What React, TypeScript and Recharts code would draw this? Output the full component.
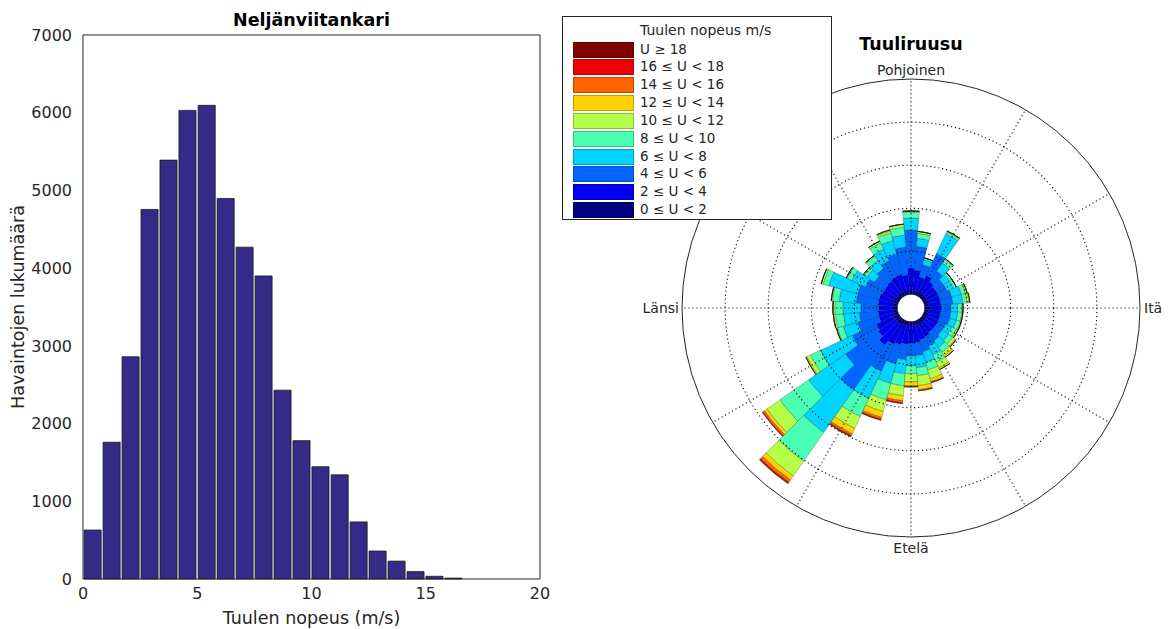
import {
  BarChart,
  Bar,
  XAxis,
  YAxis,
  RadialBarChart,
  RadialBar,
  PolarAngleAxis,
  PolarRadiusAxis,
  PolarGrid,
} from "recharts";

// histogram: 20 bins between 0 and ~16.6 m/s
const binCenters = [
  0.42, 1.25, 2.08, 2.91, 3.74, 4.57, 5.41, 6.24, 7.07, 7.9, 8.73, 9.56, 10.39,
  11.23, 12.06, 12.89, 13.72, 14.55, 15.38, 16.21,
];
const binCounts = [
  630, 1760, 2860, 4755, 5390, 6030, 6095, 4895, 4270, 3900, 2430, 1780, 1445,
  1340, 735, 360, 230, 95, 35, 12,
];
const speedTicks = [0, 5, 10, 15, 20];
const countTicks = [0, 1000, 2000, 3000, 4000, 5000, 6000, 7000];

// wind rose: share (%) per direction, one list per speed class
const directions = [
  0, 10, 20, 30, 40, 50, 60, 70, 80, 90, 100, 110, 120, 130, 140, 150, 160, 170,
  180, 190, 200, 210, 220, 230, 240, 250, 260, 270, 280, 290, 300, 310, 320, 330,
  340, 350,
];
const u0_2 = [
  0.21, 0.21, 0.21, 0.21, 0.21, 0.21, 0.21, 0.21, 0.21, 0.21, 0.21, 0.21, 0.21,
  0.21, 0.21, 0.21, 0.21, 0.21, 0.21, 0.21, 0.21, 0.21, 0.21, 0.26, 0.26, 0.26,
  0.21, 0.21, 0.21, 0.21, 0.21, 0.21, 0.21, 0.21, 0.21, 0.21,
];
const u2_4 = [
  0.7, 1.02, 0.93, 0.65, 0.84, 0.65, 0.56, 0.56, 0.56, 0.56, 0.56, 0.56, 0.56,
  0.56, 0.56, 0.56, 0.65, 0.7, 0.79, 0.79, 0.84, 0.93, 1.02, 1.21, 0.97, 0.88,
  0.7, 0.7, 0.65, 0.7, 0.7, 0.65, 0.65, 0.7, 0.74, 0.79,
];
const u4_6 = [
  1.3, 1.76, 1.11, 0.6, 1.11, 0.6, 0.46, 0.46, 0.56, 0.56, 0.46, 0.46, 0.46,
  0.37, 0.37, 0.46, 0.46, 0.56, 0.6, 0.6, 0.74, 0.93, 1.39, 2.55, 1.86, 1.25,
  1.02, 0.88, 0.84, 1.02, 1.02, 0.84, 0.6, 0.7, 0.84, 0.97,
];
const u6_8 = [
  0.56, 0.56, 0.37, 0.23, 1.02, 0.46, 0.32, 0.32, 0.46, 0.46, 0.32, 0.32, 0.32,
  0.32, 0.37, 0.37, 0.46, 0.51, 0.56, 0.46, 0.65, 0.93, 1.39, 2.41, 2.09, 1.62,
  0.7, 0.74, 0.84, 0.79, 1.39, 0.7, 0.42, 0.46, 0.6, 0.65,
];
const u8_10 = [
  0.37, 0.28, 0.23, 0.09, 0.09, 0.19, 0.14, 0.14, 0.19, 0.19, 0.19, 0.19, 0.19,
  0.23, 0.23, 0.28, 0.37, 0.37, 0.37, 0.37, 0.56, 0.79, 0.93, 1.62, 1.62, 0.51,
  0.28, 0.37, 0.37, 0.32, 0.28, 0.23, 0.14, 0.23, 0.32, 0.37,
];
const u10_12 = [
  0.14, 0.05, 0.09, 0, 0.05, 0.05, 0, 0, 0.09, 0.09, 0.05, 0.05, 0.05, 0.09,
  0.14, 0.19, 0.28, 0.42, 0.46, 0.37, 0.46, 0.56, 0.6, 0.84, 0.74, 0.19, 0.05,
  0.09, 0.09, 0.05, 0.09, 0.05, 0.05, 0.05, 0.09, 0.09,
];
const u12_14 = [
  0, 0, 0, 0, 0, 0, 0, 0, 0, 0.05, 0, 0, 0, 0, 0.05, 0.09, 0.09, 0.14, 0.19,
  0.19, 0.23, 0.28, 0.28, 0.23, 0.14, 0.05, 0, 0, 0, 0, 0, 0, 0, 0, 0, 0.05,
];
const u14_16 = [
  0, 0, 0, 0, 0, 0, 0, 0, 0, 0, 0, 0, 0, 0, 0, 0, 0, 0.05, 0.05, 0.05, 0.09,
  0.09, 0.09, 0.14, 0.09, 0, 0, 0, 0, 0, 0, 0, 0, 0, 0, 0,
];
const u16_18 = [
  0, 0, 0, 0, 0, 0, 0, 0, 0, 0, 0, 0, 0, 0, 0, 0, 0, 0, 0, 0, 0.05, 0.05, 0.05,
  0.05, 0.03, 0, 0, 0, 0, 0, 0, 0, 0, 0, 0, 0,
];
const u18 = [
  0, 0, 0, 0, 0, 0, 0, 0, 0, 0, 0, 0, 0, 0, 0, 0, 0, 0, 0, 0, 0, 0, 0.01, 0.02,
  0, 0, 0, 0, 0, 0, 0, 0, 0, 0, 0, 0,
];

const classSeries = [u0_2, u2_4, u4_6, u6_8, u8_10, u10_12, u12_14, u14_16, u16_18, u18];
const classLabels = [
  "0 ≤ U < 2",
  "2 ≤ U < 4",
  "4 ≤ U < 6",
  "6 ≤ U < 8",
  "8 ≤ U < 10",
  "10 ≤ U < 12",
  "12 ≤ U < 14",
  "14 ≤ U < 16",
  "16 ≤ U < 18",
  "U ≥ 18",
];
const classColors = [
  "#000080",
  "#0000f5",
  "#0066ff",
  "#00d4ff",
  "#4affb4",
  "#b4ff48",
  "#ffd200",
  "#ff6400",
  "#f00000",
  "#800000",
];
const compassNames: Record<number, string> = {
  0: "Pohjoinen",
  90: "Itä",
  180: "Etelä",
  270: "Länsi",
};

const histData = binCenters.map((x, i) => ({ x, count: binCounts[i] }));
const roseData = directions.map((dir, i) => {
  const row: Record<string, number> = { dir };
  classSeries.forEach((s, k) => (row["c" + k] = s[i]));
  return row;
});

const FONT = "'DejaVu Sans', Verdana, sans-serif";
const AX = "#262626";

const CX = 351;
const CY = 308;
const INNER = 13.5;
const OUTER = 229;
const ringRadii = [1, 2, 3, 4].map((k) => INNER + (k * (OUTER - INNER)) / 5);
const spokes = [90, 60, 30, 0, -30, -60, -90, -120, -150, -180, -210, -240];

function CompassTick(props: any) {
  const name = compassNames[props.payload?.value];
  if (!name) return <g />;
  const d = props.payload.value;
  let x = CX;
  let y = CY;
  let anchor: "middle" | "start" | "end" = "middle";
  if (d === 0) y = CY - OUTER - 4;
  if (d === 180) y = CY + OUTER + 16;
  if (d === 90) {
    x = CX + OUTER + 4;
    y = CY + 5;
    anchor = "start";
  }
  if (d === 270) {
    x = CX - OUTER - 3;
    y = CY + 5;
    anchor = "end";
  }
  return (
    <text x={x} y={y} textAnchor={anchor} fontSize={14} fill={AX} fontFamily={FONT}>
      {name}
    </text>
  );
}

function SpeedLegend() {
  const rows = classLabels.map((l, i) => ({ l, c: classColors[i] })).reverse();
  return (
    <div
      style={{
        position: "absolute",
        left: 562,
        top: 16,
        width: 268,
        height: 202,
        border: `1px solid ${AX}`,
        background: "#fff",
        fontFamily: FONT,
        color: AX,
        fontSize: 13.5,
      }}
    >
      <div style={{ position: "absolute", left: 77, top: 5, lineHeight: "16px", fontSize: 14 }}>
        Tuulen nopeus m/s
      </div>
      {rows.map((r, i) => (
        <div key={i}>
          <div
            style={{
              position: "absolute",
              left: 10,
              top: 24.5 + i * 17.85,
              width: 59,
              height: 14,
              background: r.c,
              border: "1px solid rgba(0,0,0,0.25)",
            }}
          />
          <div
            style={{
              position: "absolute",
              left: 77,
              top: 23.5 + i * 17.85,
              lineHeight: "17px",
              whiteSpace: "nowrap",
            }}
          >
            {r.l}
          </div>
        </div>
      ))}
    </div>
  );
}

export default function App() {
  const roseProps = {
    width: 614,
    height: 629,
    cx: CX,
    cy: CY,
    innerRadius: INNER,
    outerRadius: OUTER,
    startAngle: 95,
    endAngle: -265,
    layout: "centric" as const,
    data: roseData,
    barCategoryGap: 0,
    margin: { top: 0, right: 0, bottom: 0, left: 0 },
  };

  return (
    <div
      style={{
        position: "absolute",
        left: 0,
        top: 0,
        width: 1174,
        height: 629,
        background: "#fff",
        fontFamily: FONT,
      }}
    >
      <div
        style={{
          position: "absolute",
          left: 83,
          width: 457,
          top: 9,
          textAlign: "center",
          fontWeight: "bold",
          fontSize: 17.5,
          lineHeight: "22px",
          color: "#000",
        }}
      >
        Neljänviitankari
      </div>
      <div style={{ position: "absolute", left: 0, top: 0 }}>
        <BarChart
          width={560}
          height={629}
          data={histData}
          margin={{ top: 34, right: 19, bottom: 0, left: 0 }}
        >
          <XAxis
            xAxisId="b"
            dataKey="x"
            type="number"
            domain={[0, 20]}
            allowDataOverflow
            ticks={speedTicks}
            height={50}
            tickLine={false}
            tickSize={0}
            tickMargin={9}
            axisLine={{ stroke: AX }}
            tick={{ fontSize: 16, fill: AX, fontFamily: FONT }}
            label={{
              value: "Tuulen nopeus (m/s)",
              position: "insideBottom",
              offset: 5,
              fontSize: 17.5,
              fill: AX,
              fontFamily: FONT,
            }}
          />
          <XAxis
            xAxisId="t"
            dataKey="x"
            type="number"
            orientation="top"
            domain={[0, 20]}
            allowDataOverflow
            ticks={[5, 10, 15]}
            height={1}
            tick={false}
            tickSize={-5}
            axisLine={{ stroke: AX }}
            tickLine={{ stroke: AX }}
          />
          <YAxis
            yAxisId="l"
            type="number"
            domain={[0, 7000]}
            ticks={countTicks}
            width={83}
            tickLine={false}
            tickSize={0}
            tickMargin={11}
            axisLine={{ stroke: AX }}
            tick={{ fontSize: 16, fill: AX, fontFamily: FONT }}
            label={{
              value: "Havaintojen lukumäärä",
              angle: -90,
              position: "insideLeft",
              offset: 18,
              fontSize: 17.5,
              fill: AX,
              fontFamily: FONT,
              style: { textAnchor: "middle" },
            }}
          />
          <YAxis
            yAxisId="r"
            type="number"
            orientation="right"
            domain={[0, 7000]}
            allowDataOverflow
            ticks={[1000, 2000, 3000, 4000, 5000, 6000]}
            width={1}
            tick={false}
            tickSize={-5}
            axisLine={{ stroke: AX }}
            tickLine={{ stroke: AX }}
          />
          <Bar
            dataKey="count"
            xAxisId="b"
            yAxisId="l"
            fill="#352a87"
            stroke="#1a1a1a"
            strokeWidth={0.8}
            barSize={19.4}
            isAnimationActive={false}
          />
          {/* invisible twin so the frame axes (top / right) have a series */}
          <Bar
            dataKey="count"
            xAxisId="t"
            yAxisId="r"
            fill="none"
            stroke="none"
            barSize={19}
            isAnimationActive={false}
          />
        </BarChart>
      </div>

      <div style={{ position: "absolute", left: 560, top: 0 }}>
        <RadialBarChart {...roseProps}>
          <PolarAngleAxis
            type="category"
            dataKey="dir"
            axisLineType="circle"
            axisLine={{ stroke: AX, strokeWidth: 1 }}
            tickLine={false}
            tick={<CompassTick />}
          />
          <PolarRadiusAxis type="number" domain={[0, 10]} tick={false} axisLine={false} />
          {classSeries.map((_, k) => (
            <RadialBar
              key={k}
              dataKey={"c" + k}
              stackId="rose"
              fill={classColors[k]}
              stroke="rgba(0,0,0,0.45)"
              strokeWidth={0.5}
              isAnimationActive={false}
            />
          ))}
        </RadialBarChart>
      </div>

      {/* dotted grid drawn over the sectors, as in the original */}
      <div style={{ position: "absolute", left: 560, top: 0, pointerEvents: "none" }}>
        <RadialBarChart {...roseProps}>
          <PolarAngleAxis type="category" dataKey="dir" axisLine={false} tickLine={false} tick={false} />
          <PolarRadiusAxis type="number" domain={[0, 10]} tick={false} axisLine={false} />
          <PolarGrid
            gridType="circle"
            polarAngles={spokes}
            polarRadius={ringRadii}
            stroke="#111"
            strokeWidth={1.1}
            strokeDasharray="1.2 2.8"
          />
        </RadialBarChart>
      </div>

      <div
        style={{
          position: "absolute",
          left: 811,
          width: 200,
          top: 33,
          textAlign: "center",
          fontWeight: "bold",
          fontSize: 17.5,
          lineHeight: "22px",
          color: "#000",
        }}
      >
        Tuuliruusu
      </div>
      <SpeedLegend />
    </div>
  );
}
